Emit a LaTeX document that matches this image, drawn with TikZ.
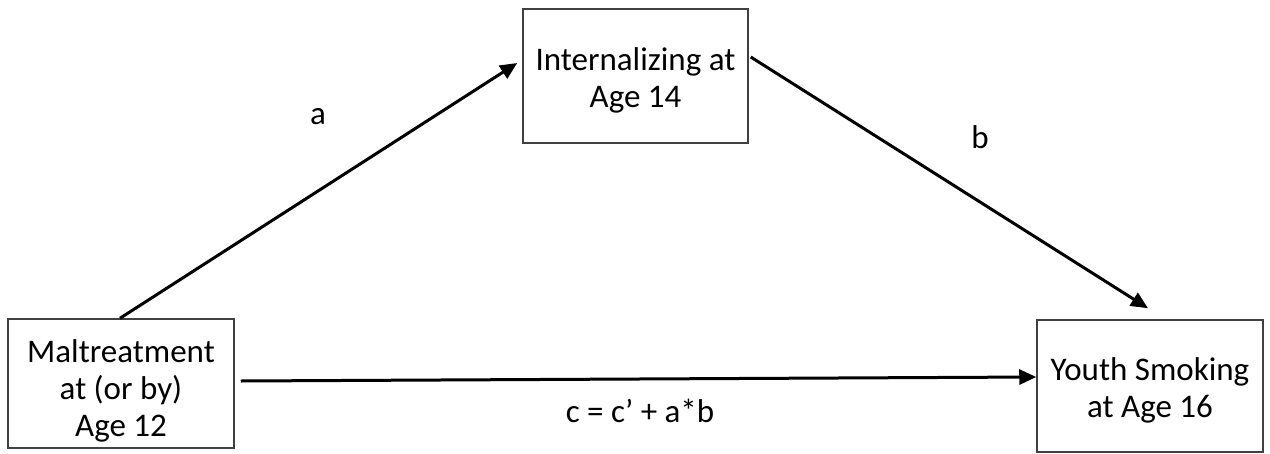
\documentclass[tikz,border=0pt]{standalone}
\usepackage{fontspec}
\setmainfont{Carlito}
\usetikzlibrary{arrows.meta}
\begin{document}
\begin{tikzpicture}[x=1pt,y=-1pt,
  box/.style={draw=black!75,line width=1.5pt,inner sep=0pt},
  txt/.style={align=center,inner sep=0pt,font=\fontsize{33}{37}\selectfont},
  lbl/.style={font=\fontsize{33}{37}\selectfont,inner sep=0pt},
  conn/.style={line width=3pt,-{Triangle[length=17pt,width=15pt]}}]
\useasboundingbox (0,0) rectangle (1270,453);
\node[box,minimum width=226pt,minimum height=129pt] (mal) at (121,383.5) {};
\node[box,minimum width=225pt,minimum height=134pt] (int) at (635.5,76) {};
\node[box,minimum width=226pt,minimum height=132pt] (ys) at (1150,386) {};
\node[txt] (maltxt) at ([yshift=-7pt]mal.center) {Maltreatment\\at (or by)\\Age 12};
\node[txt] (inttxt) at ([yshift=-4pt]int.center) {Internalizing at\\Age 14};
\node[txt] (ystxt) at ([yshift=-4pt]ys.center) {Youth Smoking\\at Age 16};
\draw[conn] ([xshift=-1pt]mal.north) -- ([xshift=-5pt,yshift=13pt]int.west);
\draw[conn] ([xshift=2pt,yshift=19pt]int.east) -- ([xshift=-2pt,yshift=11pt]ys.north);
\draw[conn] ([xshift=6pt,yshift=2.5pt]mal.east) -- ([yshift=9pt]ys.west);
\node[lbl] (la) at (318,117) {a};
\node[lbl] (lb) at (980,137) {b};
\node[lbl] (lc) at (640,411) {c = c’ + a*b};
\end{tikzpicture}
\end{document}
